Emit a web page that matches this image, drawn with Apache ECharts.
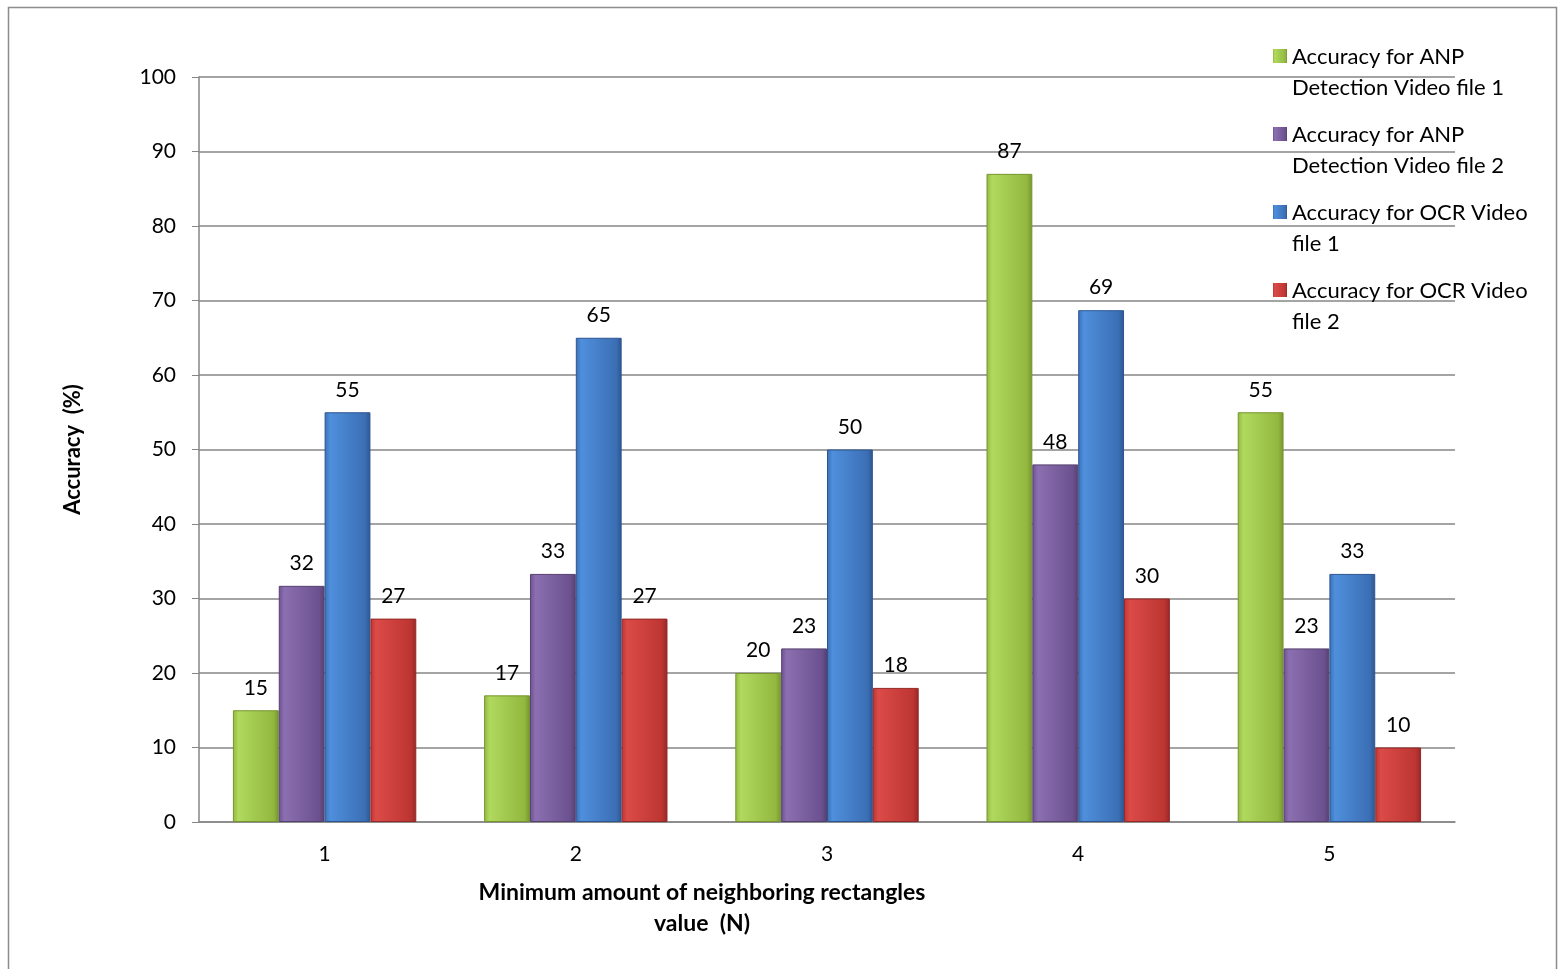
<!DOCTYPE html>
<html>
<head>
<meta charset="utf-8">
<script src="https://cdn.jsdelivr.net/npm/echarts@6/dist/echarts.min.js"></script>
<style>
  html, body { margin: 0; padding: 0; background: #fff; }
  #chart { width: 1564px; height: 969px; }
</style>
</head>
<body>
<div id="chart"></div>
<script>
var categories = ['1', '2', '3', '4', '5'];
var seriesNames = [
    'Accuracy for ANP\nDetection Video file 1',
    'Accuracy for ANP\nDetection Video file 2',
    'Accuracy for OCR Video\nfile 1',
    'Accuracy for OCR Video\nfile 2'
];
var anpVideo1 = [15, 17, 20, 87, 55];
var anpVideo2 = [31.7, 33.3, 23.3, 48, 23.3];
var ocrVideo1 = [55, 65, 50, 68.7, 33.3];
var ocrVideo2 = [27.3, 27.3, 18, 30, 10];
var yTicks = [0, 10, 20, 30, 40, 50, 60, 70, 80, 90, 100];

// 颜色：左右边缘深、中间浅，模拟Excel斜面效果
var palette = [
    ['#b0d95e', '#93b83f', '#76952f'],
    ['#8b6fb0', '#6c5190', '#56406f'],
    ['#4f8fdc', '#3b6fb5', '#2d5690'],
    ['#db4b47', '#bd3532', '#942826']
];

var font = 'Lato, "Open Sans", sans-serif';

function barColor(c) {
    return new echarts.graphic.LinearGradient(0, 0, 1, 0, [
        { offset: 0, color: c[1] },
        { offset: 0.12, color: c[0] },
        { offset: 0.88, color: c[1] },
        { offset: 1, color: c[2] }
    ]);
}

// 图例方块放在第一行文字旁边
var legendIcon = 'path://M0,0L0.01,0L0.01,0.01Z M0,3L14,3L14,17L0,17Z M0,52L0.01,52L0.01,52.01Z';

var allData = [anpVideo1, anpVideo2, ocrVideo1, ocrVideo2];
var series = allData.map(function (d, i) {
    return {
        name: seriesNames[i],
        type: 'bar',
        data: d,
        barGap: '0%',
        barCategoryGap: '27%',
        itemStyle: {
            color: barColor(palette[i]),
            borderColor: palette[i][2],
            borderWidth: 1
        },
        label: {
            show: true,
            position: 'top',
            distance: 12,
            color: '#000',
            fontSize: 21,
            fontFamily: font,
            formatter: function (p) { return Math.round(p.value); }
        }
    };
});

var myChart = echarts.init(document.getElementById('chart'));
var option = {
    animation: false,
    backgroundColor: '#fff',
    color: palette.map(function (c) { return c[1]; }),
    grid: { left: 199, right: 109, top: 77, bottom: 147 },
    legend: {
        orient: 'vertical',
        left: 1273,
        top: 41,
        padding: 0,
        itemWidth: 14,
        itemHeight: 52,
        itemGap: 16,
        icon: legendIcon,
        itemStyle: { borderWidth: 0 },
        textStyle: { fontSize: 22, fontFamily: font, color: '#000', lineHeight: 31 },
        data: seriesNames
    },
    xAxis: {
        type: 'category',
        data: categories,
        axisLine: { lineStyle: { color: '#868686', width: 1.5 } },
        axisTick: { show: false },
        axisLabel: { fontSize: 21, fontFamily: font, color: '#000', margin: 22 }
    },
    yAxis: {
        type: 'value',
        min: 0,
        max: 100,
        interval: 10,
        axisLine: { show: true, lineStyle: { color: '#868686', width: 1.5 } },
        axisTick: { show: true, length: 7, lineStyle: { color: '#868686' } },
        axisLabel: {
            fontSize: 21, fontFamily: font, color: '#000', margin: 23,
            formatter: function (v) { return yTicks.indexOf(v) >= 0 ? v : ''; }
        },
        splitLine: { lineStyle: { color: '#868686', width: 1.5 } },
        name: 'Accuracy  (%)',
        nameLocation: 'middle',
        nameGap: 115,
        nameRotate: 90,
        nameTextStyle: { fontSize: 22, fontWeight: 'bold', fontFamily: font, color: '#000' }
    },
    graphic: [
        {
            type: 'rect',
            shape: { x: 8.5, y: 7.5, width: 1548, height: 970 },
            style: { fill: 'none', stroke: '#8c8c8c', lineWidth: 1.5 },
            silent: true
        },
        {
            type: 'text',
            x: 702,
            y: 877,
            style: {
                text: 'Minimum amount of neighboring rectangles\nvalue  (N)',
                fontSize: 23,
                fontWeight: 'bold',
                fontFamily: font,
                fill: '#000',
                align: 'center',
                verticalAlign: 'top',
                lineHeight: 31
            }
        }
    ],
    series: series
};
myChart.setOption(option);
</script>
</body>
</html>
